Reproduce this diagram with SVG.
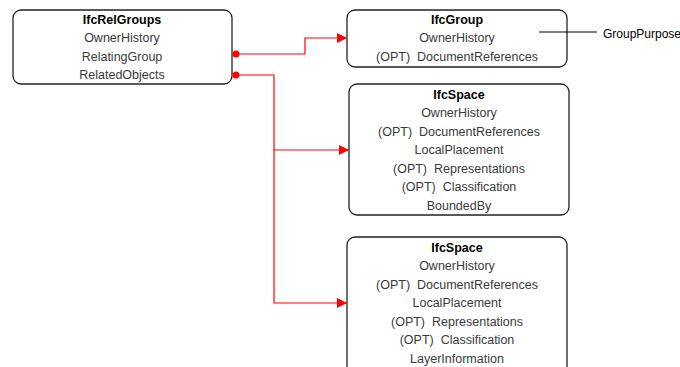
<svg xmlns="http://www.w3.org/2000/svg" width="680" height="367" viewBox="0 0 680 367">
<style>
.box{fill:#fff;stroke:#222;stroke-width:1.3}
text{font-family:"Liberation Sans",Arial,sans-serif;font-size:12.5px;fill:#3a3a3a;text-anchor:middle;white-space:pre}
.t{font-weight:bold;fill:#000}
.c{fill:none;stroke:#f00;stroke-width:1.2}
</style>
<defs>
<marker id="ah" viewBox="0 0 10 10" refX="10" refY="5" markerWidth="10" markerHeight="10" markerUnits="userSpaceOnUse" orient="auto"><path d="M0,0L10,5L0,10Z" fill="#f00"/></marker>
</defs>
<rect width="680" height="367" fill="#fff"/>
<g id="relgroups">
<rect class="box" x="13" y="10" width="219" height="74" rx="8"/>
<text class="t" x="122" y="24">IfcRelGroups</text>
<text x="122" y="42">OwnerHistory</text>
<text x="122" y="61">RelatingGroup</text>
<text x="122" y="79">RelatedObjects</text>
</g>
<g id="group">
<rect class="box" x="347" y="10" width="220" height="57" rx="8"/>
<text class="t" x="457" y="24">IfcGroup</text>
<text x="457" y="42">OwnerHistory</text>
<text x="457" y="61" xml:space="preserve">(OPT)  DocumentReferences</text>
</g>
<g id="space1">
<rect class="box" x="349" y="84" width="220" height="131" rx="8"/>
<text class="t" x="459" y="99">IfcSpace</text>
<text x="459" y="117">OwnerHistory</text>
<text x="459" y="136" xml:space="preserve">(OPT)  DocumentReferences</text>
<text x="459" y="154">LocalPlacement</text>
<text x="459" y="173" xml:space="preserve">(OPT)  Representations</text>
<text x="459" y="191" xml:space="preserve">(OPT)  Classification</text>
<text x="459" y="210">BoundedBy</text>
</g>
<g id="space2">
<rect class="box" x="347" y="237" width="220" height="140" rx="8"/>
<text class="t" x="457" y="252">IfcSpace</text>
<text x="457" y="270">OwnerHistory</text>
<text x="457" y="289" xml:space="preserve">(OPT)  DocumentReferences</text>
<text x="457" y="307">LocalPlacement</text>
<text x="457" y="326" xml:space="preserve">(OPT)  Representations</text>
<text x="457" y="344" xml:space="preserve">(OPT)  Classification</text>
<text x="457" y="363">LayerInformation</text>
</g>
<g id="grouppurpose">
<line x1="539" y1="32" x2="597" y2="32" stroke="#000" stroke-width="1"/>
<text x="603" y="38" style="text-anchor:start;font-size:12px;fill:#000">GroupPurpose</text>
</g>
<g id="connectors">
<circle cx="236" cy="54" r="3.5" fill="#f00"/>
<polyline class="c" points="236,54 305,54 305,38 347,38" marker-end="url(#ah)"/>
<circle cx="236" cy="75" r="3.5" fill="#f00"/>
<polyline class="c" points="236,75 274,75 274,150 349,150" marker-end="url(#ah)"/>
<polyline class="c" points="274,150 274,303 347,303" marker-end="url(#ah)"/>
</g>
</svg>
